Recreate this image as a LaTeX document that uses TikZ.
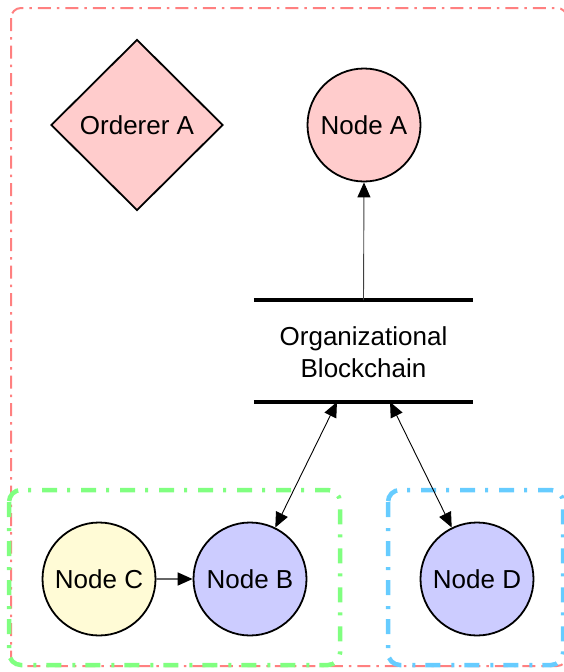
\documentclass[tikz,border=0pt]{standalone}
\usepackage{fontspec}
\setmainfont{Liberation Sans}
\usetikzlibrary{shapes.geometric,arrows.meta,calc}

\definecolor{zoneRed}{RGB}{255,128,128}
\definecolor{zoneGreen}{RGB}{128,255,128}
\definecolor{zoneBlue}{RGB}{102,204,255}
\definecolor{fillPink}{RGB}{255,204,204}
\definecolor{fillYellow}{RGB}{255,251,214}
\definecolor{fillLavender}{RGB}{204,204,255}

\tikzset{
  zone/.style={line cap=butt, rounded corners=12pt},
  outerzone/.style={zone, draw=zoneRed, line width=2pt, rounded corners=10pt,
    dash pattern=on 13pt off 6pt on 2.5pt off 6pt},
  greenzone/.style={zone, draw=zoneGreen, line width=4.5pt,
    dash pattern=on 15pt off 11pt on 3pt off 10pt},
  bluezone/.style={zone, draw=zoneBlue, line width=4.5pt,
    dash pattern=on 15pt off 11pt on 3pt off 10pt},
  peer/.style={circle, draw=black, line width=1.8pt, minimum size=113pt, inner sep=0pt},
  orderer/.style={diamond, draw=black, line width=1.8pt, fill=fillPink,
    minimum width=172pt, minimum height=171pt, inner sep=0pt},
  ledger/.style={minimum width=219pt, minimum height=102pt, inner sep=0pt, align=center},
  rule/.style={line width=3.2pt},
  link/.style={draw=black, line width=0.9pt},
  head/.tip={Triangle[length=15pt, width=13pt, color=black]},
}

\begin{document}
\begin{tikzpicture}[x=1pt, y=-1pt,
  every node/.style={font=\fontsize{26}{32}\selectfont}]
  \useasboundingbox (0,0) rectangle (564,672);

  % organisation zones
  \draw[outerzone] (11,8) rectangle (567,666);
  \draw[greenzone] (9,490) rectangle (340,665);
  \draw[bluezone] (388,490) rectangle (563,665);

  % nodes
  \node[orderer] (ord) at (137,125) {Orderer A};
  \node[peer, fill=fillPink] (na) at (364,125) {Node A};
  \node[ledger] (bc) at (363.5,352) {Organizational\\Blockchain};
  \node[peer, fill=fillYellow] (nc) at (99,579) {Node C};
  \node[peer, fill=fillLavender] (nb) at (250,579) {Node B};
  \node[peer, fill=fillLavender] (nd) at (477,579) {Node D};

  % ledger rules
  \draw[rule] (363.5,300) coordinate (bcTop) (bc.north west |- bcTop) -- (bc.north east |- bcTop);
  \draw[rule] (bc.south west |- 0,402) coordinate (bcBL) -- (bc.south east |- 0,402) coordinate (bcBR);

  % anchor points on the lower rule
  \coordinate (bcL) at ($(bcBL)!0.379!(bcBR)$);
  \coordinate (bcR) at ($(bcBL)!0.621!(bcBR)$);

  % connectors
  \draw[link, draw=black!75, -head] (bcTop) -- (na.south);
  \draw[link, head-head] (bcL) -- (nb);
  \draw[link, head-head] (bcR) -- (nd);
  \draw[draw=black!60, line width=1.6pt, -head] (nc.east) -- (nb.west);
\end{tikzpicture}
\end{document}
